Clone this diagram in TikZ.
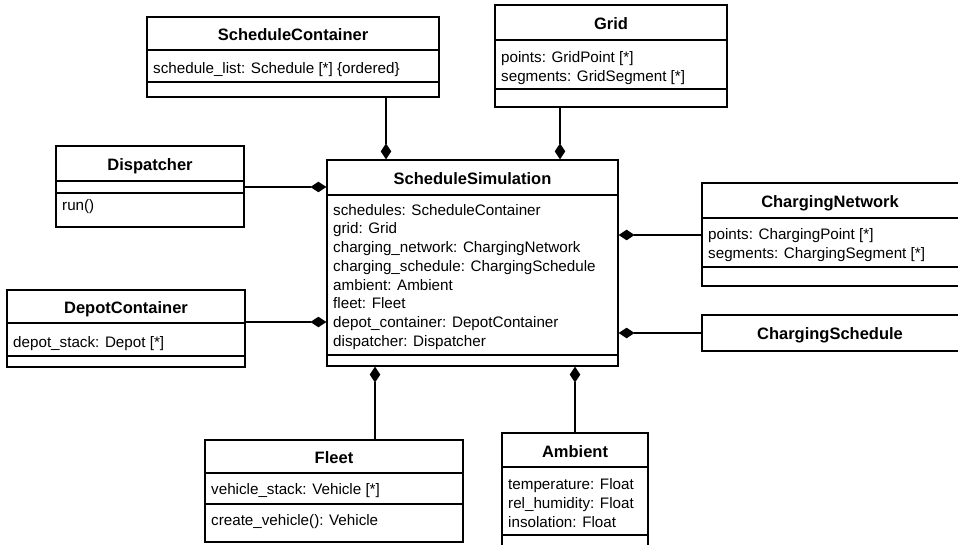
\documentclass[tikz,border=0pt]{standalone}
\usepackage{fontspec}
\setmainfont{Liberation Sans}
\usetikzlibrary{arrows.meta}

% class box from its outer corners: name, x1, y1, x2, y2
\newcommand\umlclass[5]{%
  \node[classbox, minimum width={(#4)-(#2)}, minimum height={(#5)-(#3)}]
    (#1) at ({((#2)+(#4))/2},{((#3)+(#5))/2}) {};}
% compartment separator: x1, x2, y
\newcommand\umlsep[3]{\draw[sepline] (#1,#3) -- (#2,#3);}

\begin{document}
\begin{tikzpicture}[x=1pt,y=-1pt,
  classbox/.style={draw=black, line width=1.2pt, inner sep=0pt, fill=white},
  sepline/.style={line width=1.2pt},
  title/.style={font=\fontsize{16.5}{20}\selectfont\bfseries, inner sep=0pt, anchor=base},
  % multi-line members are placed by the baseline of their last line
  member/.style={font=\fontsize{15.2}{18.75}\selectfont, inner sep=0pt, anchor=base west, align=left},
  comp/.style={line width=1.2pt, -{Diamond[length=16pt,width=10.5pt]}}
]
\useasboundingbox (0,0) rectangle (958,545);
\clip (0,0) rectangle (958,545);

% ScheduleSimulation (centre)
\umlclass{sim}{327}{160}{618}{366}
\umlsep{327}{618}{195}
\umlsep{327}{618}{355}
\node[title] (sim-t) at (472.5,184.5) {ScheduleSimulation};
\node[member] (sim-a) at (333,346.25) {schedules: ScheduleContainer\\grid: Grid\\charging\_network: ChargingNetwork\\charging\_schedule: ChargingSchedule\\ambient: Ambient\\fleet: Fleet\\depot\_container: DepotContainer\\dispatcher: Dispatcher};

% ScheduleContainer
\umlclass{sc}{147}{17}{439}{97}
\umlsep{147}{439}{50}
\umlsep{147}{439}{82}
\node[title] (sc-t) at (293,41) {ScheduleContainer};
\node[member] (sc-a) at (153,74) {schedule\_list: Schedule [*] \{ordered\}};

% Grid
\umlclass{grid}{495}{5}{727}{107}
\umlsep{495}{727}{40}
\umlsep{495}{727}{89}
\node[title] (grid-t) at (611,30) {Grid};
\node[member] (grid-a) at (501,81.25) {points: GridPoint [*]\\segments: GridSegment [*]};

% Dispatcher
\umlclass{disp}{56}{146}{244}{227}
\umlsep{56}{244}{181}
\umlsep{56}{244}{193}
\node[title] (disp-t) at (150,170.5) {Dispatcher};
\node[member] (disp-m) at (62,211) {run()};

% ChargingNetwork (runs past the right edge)
\umlclass{cn}{702}{183}{962}{286}
\umlsep{702}{962}{218}
\umlsep{702}{962}{267}
\node[title] (cn-t) at (830,207.5) {ChargingNetwork};
\node[member] (cn-a) at (708,258.75) {points: ChargingPoint [*]\\segments: ChargingSegment [*]};

% ChargingSchedule
\umlclass{cs}{702}{315}{962}{351}
\node[title] (cs-t) at (830,339) {ChargingSchedule};

% DepotContainer
\umlclass{dc}{7}{290}{245}{367}
\umlsep{7}{245}{323}
\umlsep{7}{245}{356}
\node[title] (dc-t) at (126,313.5) {DepotContainer};
\node[member] (dc-a) at (13,347) {depot\_stack: Depot [*]};

% Fleet
\umlclass{fleet}{205}{440}{463}{542}
\umlsep{205}{463}{473}
\umlsep{205}{463}{504}
\node[title] (fleet-t) at (334,463) {Fleet};
\node[member] (fleet-a) at (211,494.5) {vehicle\_stack: Vehicle [*]};
\node[member] (fleet-m) at (211,525) {create\_vehicle(): Vehicle};

% Ambient (runs past the bottom edge)
\umlclass{amb}{502}{433}{648}{560}
\umlsep{502}{648}{467}
\umlsep{502}{648}{535}
\node[title] (amb-t) at (575,457.5) {Ambient};
\node[member] (amb-a) at (508,527) {temperature: Float\\rel\_humidity: Float\\insolation: Float};

% lanes of the composition connectors
\coordinate (laneSC) at (386,0);
\coordinate (laneGrid) at (560,0);
\coordinate (laneDisp) at (0,187);
\coordinate (laneCN) at (0,235);
\coordinate (laneCS) at (0,333);
\coordinate (laneDC) at (0,322);
\coordinate (laneFleet) at (375,0);
\coordinate (laneAmb) at (575,0);

% composition connectors, diamond on the ScheduleSimulation side
\draw[comp] (laneSC |- sc.south) -- (laneSC |- sim.north);
\draw[comp] (laneGrid |- grid.south) -- (laneGrid |- sim.north);
\draw[comp] (disp.east |- laneDisp) -- (sim.west |- laneDisp);
\draw[comp] (dc.east |- laneDC) -- (sim.west |- laneDC);
\draw[comp] (cn.west |- laneCN) -- (sim.east |- laneCN);
\draw[comp] (cs.west |- laneCS) -- (sim.east |- laneCS);
\draw[comp] (laneFleet |- fleet.north) -- (laneFleet |- sim.south);
\draw[comp] (laneAmb |- amb.north) -- (laneAmb |- sim.south);
\end{tikzpicture}
\end{document}
